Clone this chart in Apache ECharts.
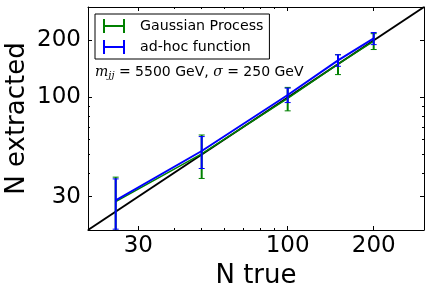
<!DOCTYPE html>
<html>
<head>
<meta charset="utf-8">
<script src="https://cdn.jsdelivr.net/npm/echarts@6/dist/echarts.min.js"></script>
<style>html,body{margin:0;padding:0;background:#fff;}#c{width:429px;height:294px;}</style>
</head>
<body>
<div id="c"></div>
<script>
// ---- data ----
const xTrue = [25, 50, 100, 150, 200];
const gpValues = [28.2, 50.4, 99, 150, 198];
const gpErrors = [9.8, 13, 14, 18, 19];
const adhocValues = [28.7, 52.2, 103, 157, 205];
const adhocErrors = [8.5, 10, 9, 11, 15];
const diagonal = [20, 300];
const majorTicks = [30, 100, 200];
const minorTicks = [40, 50, 60, 70, 80, 90, 300];
const axisRange = [20, 300];
const seriesNames = ['Gaussian Process', 'ad-hoc function'];
const annotation = ['m', 'jj', ' = 5500 GeV, ', 'σ', ' = 250 GeV'];

const chart = echarts.init(document.getElementById('c'), null, {renderer: 'canvas'});
const FONT = 'DejaVu Sans';

function errData(vals, errs) {
  return xTrue.map((x, i) => [x, vals[i], vals[i] - errs[i], vals[i] + errs[i]]);
}
function errRender(color) {
  return function (params, api) {
    const x = api.value(0);
    const lo = api.coord([x, api.value(2)]);
    const hi = api.coord([x, api.value(3)]);
    const cw = 3;
    const st = {stroke: color, lineWidth: 2};
    return {
      type: 'group',
      children: [
        {type: 'line', shape: {x1: lo[0], y1: lo[1], x2: hi[0], y2: hi[1]}, style: st},
        {type: 'line', shape: {x1: lo[0] - cw, y1: lo[1], x2: lo[0] + cw, y2: lo[1]}, style: {stroke: color, lineWidth: 1}},
        {type: 'line', shape: {x1: hi[0] - cw, y1: hi[1], x2: hi[0] + cw, y2: hi[1]}, style: {stroke: color, lineWidth: 1}}
      ]
    };
  };
}

const gridRect = {left: 88, right: 5, top: 7, height: 223, containLabel: false, outerBoundsMode: 'none'};
function mkX(grid, pos, major, showLabel, extra) {
  return Object.assign({
    type: 'log', gridIndex: grid, position: pos, min: axisRange[0], max: axisRange[1],
    axisLine: {show: major, lineStyle: {color: '#000', width: 1}},
    axisTick: {show: true, inside: true, length: major ? 4 : 2, customValues: major ? majorTicks : minorTicks, lineStyle: {color: '#000', width: 1}},
    axisLabel: {show: showLabel, customValues: majorTicks, fontFamily: FONT, fontSize: 23, color: '#000', margin: 5},
    splitLine: {show: false}, minorTick: {show: false}, nameMoveOverlap: false
  }, extra || {});
}
function mkY(grid, pos, major, showLabel, extra) {
  return Object.assign({
    type: 'log', gridIndex: grid, position: pos, min: axisRange[0], max: axisRange[1],
    axisLine: {show: major, lineStyle: {color: '#000', width: 1}},
    axisTick: {show: true, inside: true, length: major ? 4 : 2, customValues: major ? majorTicks : minorTicks, lineStyle: {color: '#000', width: 1}},
    axisLabel: {show: showLabel, customValues: majorTicks, fontFamily: FONT, fontSize: 23, color: '#000', margin: 7},
    splitLine: {show: false}, minorTick: {show: false}, nameMoveOverlap: false
  }, extra || {});
}

const legendIcon = 'path://M0,0h2v14h-2z M0,6h22v2h-22z M20,0h2v14h-2z';

const option = {
  animation: false,
  backgroundColor: '#fff',
  grid: [Object.assign({}, gridRect), Object.assign({}, gridRect)],
  xAxis: [
    mkX(0, 'bottom', true, true, {name: 'N true', nameLocation: 'middle', nameGap: 33,
      nameTextStyle: {fontFamily: FONT, fontSize: 26, color: '#000'}}),
    mkX(0, 'top', true, false),
    mkX(1, 'bottom', false, false),
    mkX(1, 'top', false, false)
  ],
  yAxis: [
    mkY(0, 'left', true, true, {name: 'N extracted', nameLocation: 'middle', nameGap: 58, nameRotate: 90,
      nameTextStyle: {fontFamily: FONT, fontSize: 26, color: '#000'}}),
    mkY(0, 'right', true, false),
    mkY(1, 'left', false, false),
    mkY(1, 'right', false, false)
  ],
  legend: {
    orient: 'vertical', left: 95, top: 14,
    padding: [5, 6, 5, 8], itemGap: 7, itemWidth: 22, itemHeight: 14,
    borderColor: '#000', borderWidth: 1, borderRadius: 0, backgroundColor: '#fff',
    textStyle: {fontFamily: FONT, fontSize: 14.2, color: '#000', padding: [0, 0, 0, 10]},
    data: [
      {name: seriesNames[0], icon: legendIcon, itemStyle: {color: '#008000'}},
      {name: seriesNames[1], icon: legendIcon, itemStyle: {color: '#0000ff'}}
    ]
  },
  graphic: [{
    type: 'text', left: 95, top: 65,
    style: {
      text: '{m|' + annotation[0] + '}{sub|' + annotation[1] + '}{t|' + annotation[2] + '}{s|' + annotation[3] + '}{t|' + annotation[4] + '}',
      rich: {
        m: {fontFamily: 'DejaVu Serif', fontStyle: 'italic', fontSize: 14, fill: '#000'},
        sub: {fontFamily: 'DejaVu Serif', fontStyle: 'italic', fontSize: 10, fill: '#000', padding: [6, 0, 0, 0]},
        s: {fontFamily: 'DejaVu Serif', fontStyle: 'italic', fontSize: 14, fill: '#000'},
        t: {fontFamily: FONT, fontSize: 14, fill: '#000'}
      }
    },
    z: 100
  }],
  series: [
    {
      name: 'diagonal', type: 'line', xAxisIndex: 0, yAxisIndex: 0,
      data: diagonal.map(v => [v, v]), symbol: 'none',
      lineStyle: {color: '#000', width: 2}, z: 1, silent: true
    },
    {
      name: seriesNames[0], type: 'line', xAxisIndex: 0, yAxisIndex: 0,
      data: xTrue.map((x, i) => [x, gpValues[i]]), symbol: 'none',
      lineStyle: {color: '#008000', width: 1.5}, itemStyle: {color: '#008000'}, z: 2
    },
    {
      name: 'gp-err', type: 'custom', xAxisIndex: 0, yAxisIndex: 0, clip: true,
      data: errData(gpValues, gpErrors), renderItem: errRender('#008000'), z: 3
    },
    {
      name: seriesNames[1], type: 'line', xAxisIndex: 0, yAxisIndex: 0,
      data: xTrue.map((x, i) => [x, adhocValues[i]]), symbol: 'none',
      lineStyle: {color: '#0000ff', width: 2}, itemStyle: {color: '#0000ff'}, z: 4
    },
    {
      name: 'adhoc-err', type: 'custom', xAxisIndex: 0, yAxisIndex: 0, clip: true,
      data: errData(adhocValues, adhocErrors), renderItem: errRender('#0000ff'), z: 5
    }
  ]
};
chart.setOption(option);
</script>
</body>
</html>
